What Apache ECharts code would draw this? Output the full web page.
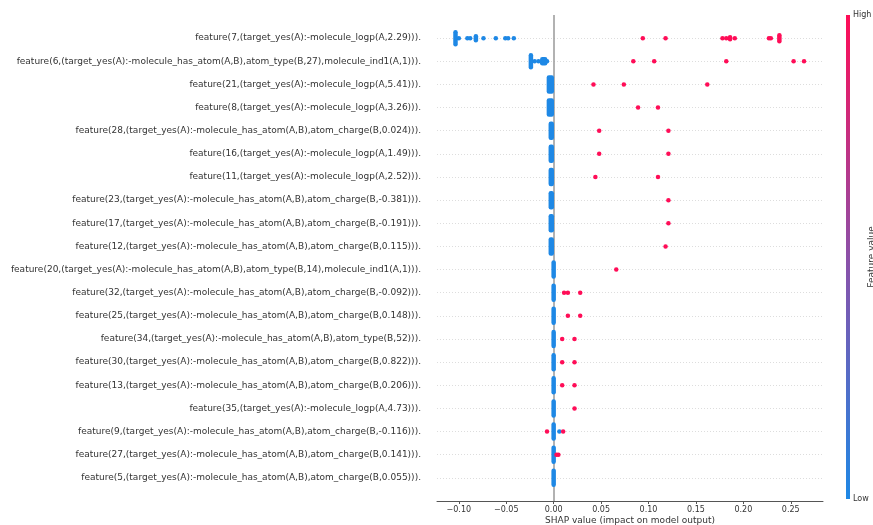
<!DOCTYPE html>
<html>
<head>
<meta charset="utf-8">
<title>SHAP summary</title>
<script src="https://cdn.jsdelivr.net/npm/echarts@6/dist/echarts.min.js"></script>
<style>
  html, body { margin: 0; padding: 0; background: #fff; }
  #chart { width: 873px; height: 525px; }
</style>
</head>
<body>
<div id="chart"></div>
<script>
// features, top row first
var features = [
  'feature(7,(target_yes(A):-molecule_logp(A,2.29))).',
  'feature(6,(target_yes(A):-molecule_has_atom(A,B),atom_type(B,27),molecule_ind1(A,1))).',
  'feature(21,(target_yes(A):-molecule_logp(A,5.41))).',
  'feature(8,(target_yes(A):-molecule_logp(A,3.26))).',
  'feature(28,(target_yes(A):-molecule_has_atom(A,B),atom_charge(B,0.024))).',
  'feature(16,(target_yes(A):-molecule_logp(A,1.49))).',
  'feature(11,(target_yes(A):-molecule_logp(A,2.52))).',
  'feature(23,(target_yes(A):-molecule_has_atom(A,B),atom_charge(B,-0.381))).',
  'feature(17,(target_yes(A):-molecule_has_atom(A,B),atom_charge(B,-0.191))).',
  'feature(12,(target_yes(A):-molecule_has_atom(A,B),atom_charge(B,0.115))).',
  'feature(20,(target_yes(A):-molecule_has_atom(A,B),atom_type(B,14),molecule_ind1(A,1))).',
  'feature(32,(target_yes(A):-molecule_has_atom(A,B),atom_charge(B,-0.092))).',
  'feature(25,(target_yes(A):-molecule_has_atom(A,B),atom_charge(B,0.148))).',
  'feature(34,(target_yes(A):-molecule_has_atom(A,B),atom_type(B,52))).',
  'feature(30,(target_yes(A):-molecule_has_atom(A,B),atom_charge(B,0.822))).',
  'feature(13,(target_yes(A):-molecule_has_atom(A,B),atom_charge(B,0.206))).',
  'feature(35,(target_yes(A):-molecule_logp(A,4.73))).',
  'feature(9,(target_yes(A):-molecule_has_atom(A,B),atom_charge(B,-0.116))).',
  'feature(27,(target_yes(A):-molecule_has_atom(A,B),atom_charge(B,0.141))).',
  'feature(5,(target_yes(A):-molecule_has_atom(A,B),atom_charge(B,0.055))).'
];

var xTicks = [-0.10, -0.05, 0.00, 0.05, 0.10, 0.15, 0.20, 0.25];

// single dots: [shap value, row]
var lowPoints = [
  [-0.100, 0], [-0.091, 0], [-0.088, 0], [-0.074, 0], [-0.061, 0], [-0.051, 0], [-0.048, 0], [-0.042, 0],
  [-0.020, 1], [-0.016, 1], [-0.007, 1],
  [0.006, 17]
];
var highPoints = [
  [0.094, 0], [0.118, 0], [0.178, 0], [0.182, 0], [0.191, 0], [0.227, 0], [0.229, 0],
  [0.084, 1], [0.106, 1], [0.182, 1], [0.253, 1], [0.264, 1],
  [0.042, 2], [0.074, 2], [0.162, 2],
  [0.089, 3], [0.110, 3],
  [0.048, 4], [0.121, 4],
  [0.048, 5], [0.121, 5],
  [0.044, 6], [0.110, 6],
  [0.121, 7],
  [0.121, 8],
  [0.118, 9],
  [0.066, 10],
  [0.011, 11], [0.015, 11], [0.028, 11],
  [0.015, 12], [0.028, 12],
  [0.009, 13], [0.022, 13],
  [0.009, 14], [0.022, 14],
  [0.009, 15], [0.022, 15],
  [0.022, 16],
  [-0.007, 17], [0.010, 17],
  [0.003, 18], [0.005, 18]
];

// piled-up dots: [from, to, row, count]
var lowStacks = [
  [-0.1035, -0.1035, 0, 7], [-0.082, -0.082, 0, 3],
  [-0.024, -0.024, 1, 7], [-0.012, -0.009, 1, 3],
  [-0.005, -0.002, 2, 8], [-0.005, -0.002, 3, 8],
  [-0.003, -0.002, 4, 8], [-0.003, -0.002, 5, 8], [-0.003, -0.002, 6, 8],
  [-0.003, -0.002, 7, 8], [-0.003, -0.002, 8, 8], [-0.003, -0.002, 9, 8],
  [0.000, 0.000, 10, 8], [0.000, 0.000, 11, 8], [0.000, 0.000, 12, 8],
  [0.000, 0.000, 13, 8], [0.000, 0.000, 14, 8], [0.000, 0.000, 15, 8],
  [0.000, 0.000, 16, 8], [0.000, 0.000, 17, 8], [0.000, 0.000, 18, 8],
  [0.000, 0.000, 19, 8]
];
var highStacks = [
  [0.186, 0.186, 0, 2], [0.238, 0.238, 0, 4]
];

var BLUE = '#1E88E5';
var RED = '#FF0D57';
var DOT = 4.5;

function stackItem(color) {
  return function (params, api) {
    var a = api.coord([api.value(0), api.value(2)]);
    var b = api.coord([api.value(1), api.value(2)]);
    var h = DOT + (api.value(3) - 1) * 2;
    return {
      type: 'rect',
      shape: { x: a[0] - DOT / 2, y: a[1] - h / 2, width: b[0] - a[0] + DOT, height: h, r: DOT / 2 },
      style: { fill: color }
    };
  };
}

var chart = echarts.init(document.getElementById('chart'));
chart.setOption({
  animation: false,
  textStyle: { fontFamily: 'DejaVu Sans' },
  grid: { left: 437, right: 50, top: 15, bottom: 24, containLabel: false, outerBoundsMode: 'none' },
  xAxis: {
    type: 'value',
    min: -0.123,
    max: 0.284,
    name: 'SHAP value (impact on model output)',
    nameLocation: 'middle',
    nameGap: 15,
    nameMoveOverlap: false,
    nameTextStyle: { fontSize: 9, color: '#333' },
    axisLine: { onZero: false, lineStyle: { color: '#555', width: 1 } },
    axisTick: { show: true, length: 3, customValues: xTicks, lineStyle: { color: '#555' } },
    axisLabel: {
      customValues: xTicks,
      margin: 5,
      fontSize: 8,
      color: '#333',
      formatter: function (v) { return (v < 0 ? '\u2212' : '') + Math.abs(v).toFixed(2); }
    },
    splitLine: { show: false }
  },
  yAxis: {
    type: 'value',
    min: -1,
    max: 20,
    interval: 1,
    inverse: true,
    axisLine: { show: false, onZero: false },
    axisTick: { show: false },
    splitLine: { show: false },
    axisLabel: {
      margin: 16,
      fontSize: 9,
      color: '#333',
      formatter: function (v) { return features[v] || ''; }
    }
  },
  graphic: [
    {
      type: 'rect',
      shape: { x: 846, y: 15, width: 4, height: 484 },
      style: {
        fill: new echarts.graphic.LinearGradient(0, 0, 0, 1, [
          { offset: 0, color: RED },
          { offset: 0.5, color: '#8C50A8' },
          { offset: 1, color: BLUE }
        ])
      }
    },
    { type: 'text', x: 853, y: 15, style: { text: 'High', fontSize: 8, fill: '#333', verticalAlign: 'middle', fontFamily: 'DejaVu Sans' } },
    { type: 'text', x: 853, y: 499, style: { text: 'Low', fontSize: 8, fill: '#333', verticalAlign: 'middle', fontFamily: 'DejaVu Sans' } },
    {
      type: 'text', x: 872, y: 257, rotation: Math.PI / 2,
      style: { text: 'Feature value', fontSize: 9, fill: '#333', align: 'center', verticalAlign: 'middle', fontFamily: 'DejaVu Sans' }
    }
  ],
  series: [
    {
      type: 'line',
      data: [],
      z: 1,
      markLine: {
        z: 1,
        silent: true,
        symbol: 'none',
        label: { show: false },
        animation: false,
        data: features.map(function (f, i) {
          return { yAxis: i, lineStyle: { color: '#dddddd', width: 1, type: [1, 2] } };
        }).concat([{ xAxis: 0, lineStyle: { color: '#999', width: 1.5, type: 'solid' } }])
      }
    },
    {
      type: 'custom',
      z: 3,
      data: lowStacks,
      renderItem: stackItem(BLUE)
    },
    {
      type: 'custom',
      z: 3,
      data: highStacks,
      renderItem: stackItem(RED)
    },
    {
      type: 'scatter',
      z: 4,
      data: lowPoints,
      symbolSize: DOT,
      itemStyle: { color: BLUE, opacity: 1, borderWidth: 0 }
    },
    {
      type: 'scatter',
      z: 4,
      data: highPoints,
      symbolSize: DOT,
      itemStyle: { color: RED, opacity: 1, borderWidth: 0 }
    }
  ]
});
</script>
</body>
</html>
